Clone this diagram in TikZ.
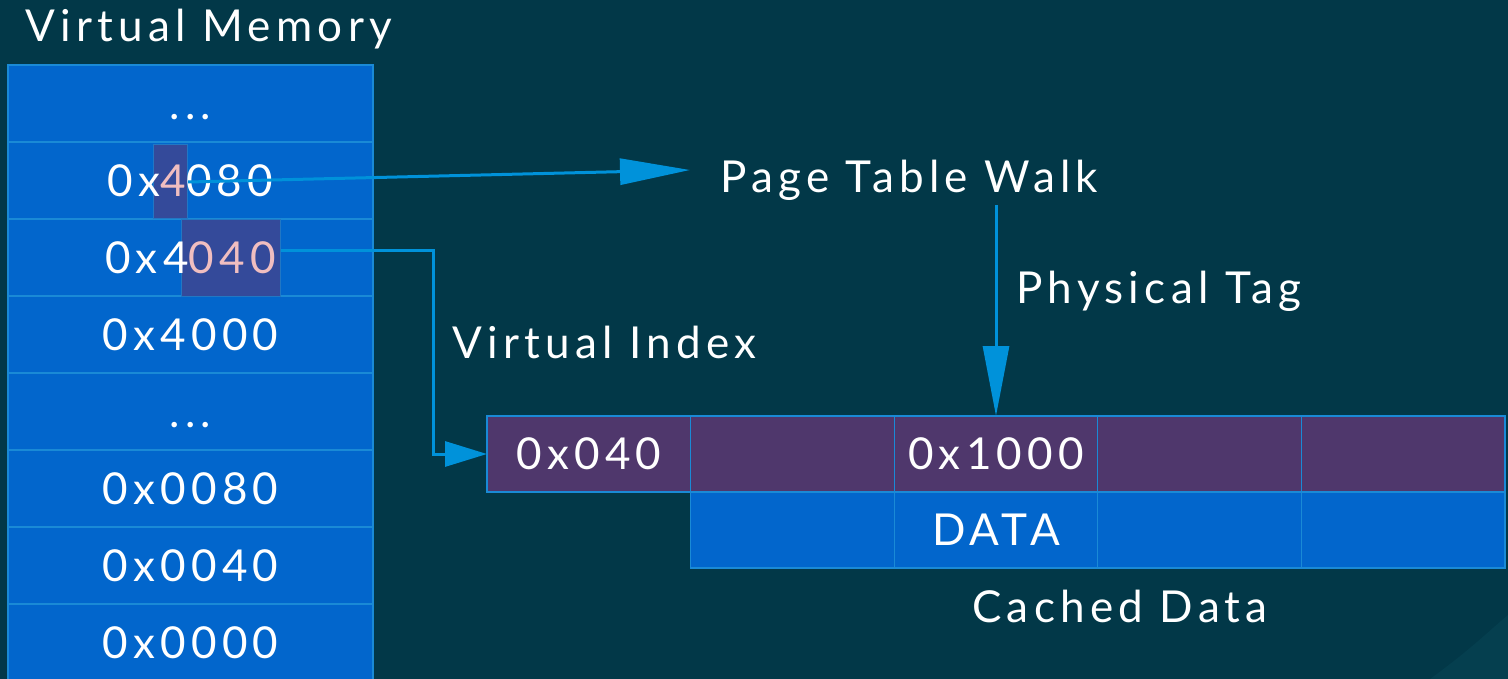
\documentclass[tikz,border=0pt]{standalone}
\usepackage{fontspec}
\setmainfont{Lato}[LetterSpace=12]
\usetikzlibrary{arrows.meta,fit,calc}
\definecolor{bgc}{RGB}{2,56,72}
\definecolor{bgcorner}{RGB}{5,63,79}
\definecolor{memfill}{RGB}{2,102,204}
\definecolor{memline}{RGB}{26,138,214}
\definecolor{tagfill}{RGB}{79,55,108}
\definecolor{hlfill}{RGB}{52,74,154}
\definecolor{pinktxt}{RGB}{240,190,192}
\definecolor{arrowc}{RGB}{0,146,218}
\pgfdeclarelayer{back}
\pgfdeclarelayer{mark}
\pgfsetlayers{back,mark,main}
\tikzset{
  txt/.style={font=\fontsize{44}{52}\selectfont, text=white, inner sep=0pt},
  memcell/.style={fill=memfill, draw=memline, line width=1.5pt, minimum width=365pt,
    minimum height=77pt, inner sep=0pt, outer sep=0pt, anchor=north west},
  tagcell/.style={fill=tagfill, draw=memline, line width=1.2pt, minimum width=203.6pt,
    minimum height=76pt, inner sep=0pt, outer sep=0pt, anchor=north west, txt},
  datacell/.style={fill=memfill, draw=memline, line width=1.2pt, minimum width=203.6pt,
    minimum height=76pt, inner sep=0pt, outer sep=0pt, anchor=north west, txt},
  hlbox/.style={fill=hlfill, draw=memline!70!hlfill, line width=1pt, inner sep=0pt},
  ghost/.style={txt, anchor=base west},
  conn/.style={draw=arrowc, line width=3pt},
  bigtip/.style={-{Triangle[length=70pt,width=26pt]}},
  smalltip/.style={-{Triangle[length=42pt,width=25pt]}},
}
\begin{document}
\begin{tikzpicture}[x=1pt,y=-1pt]
  \useasboundingbox (0,0) rectangle (1508,679);
  % canvas and memory column
  \begin{pgfonlayer}{back}
    \fill[bgc] (0,0) rectangle (1508,679);
    \fill[bgcorner] (1430,679) .. controls (1470,650) and (1490,630) .. (1508,615) -- (1508,679) -- cycle;
    \foreach \i in {0,...,7}
      \node[memcell] (m\i) at (8,{65+77*\i}) {};
  \end{pgfonlayer}

  \node[txt, anchor=base west] (vmtitle) at (25,42) {Virtual Memory};
  \node[txt, anchor=base] (t0) at ($(m0.center)+(0,16)$) {...};
  \node[txt, anchor=base] (t1) at ($(m1.center)+(0,16)$) {0x\textcolor{pinktxt}{4}080};
  \node[txt, anchor=base] (t2) at ($(m2.center)+(0,16)$) {0x4\textcolor{pinktxt}{040}};
  \node[txt, anchor=base] (t3) at ($(m3.center)+(0,16)$) {0x4000};
  \node[txt, anchor=base] (t4) at ($(m4.center)+(0,16)$) {...};
  \node[txt, anchor=base] (t5) at ($(m5.center)+(0,16)$) {0x0080};
  \node[txt, anchor=base] (t6) at ($(m6.center)+(0,16)$) {0x0040};
  \node[txt, anchor=base] (t7) at ($(m7.center)+(0,16)$) {0x0000};

  % widths of the leading digits, used to place the marked fields
  \node[ghost] (q1) at (t1.base west) {\phantom{0x}};
  \node[ghost] (q2) at (q1.base east) {\phantom{4}};
  \node[ghost] (r1) at (t2.base west) {\phantom{0x4}};
  \node[ghost] (r2) at (r1.base east) {\phantom{040}};

  \begin{pgfonlayer}{mark}
    \node[hlbox, fit={($(q2.west |- m1.north)+(-7,3)$) ($(q2.east |- m1.south)+(1,0)$)}] (h4) {};
    \node[hlbox, fit={($(r2.west |- m2.north)+(-7,1)$) ($(r2.east |- m2.south)+(4,0)$)}] (h040) {};
  \end{pgfonlayer}

  % cache
  \foreach \i/\t in {1/0x040, 2/, 3/0x1000, 4/, 5/}
    \node[tagcell] (c\i) at ({487+203.6*(\i-1)},416) {\t};
  \foreach \i/\t in {2/, 3/DATA, 4/, 5/}
    \node[datacell] (d\i) at ({487+203.6*(\i-1)},492) {\t};
  \node[txt, anchor=base west] (cached) at (972,622) {Cached Data};

  % labels
  \node[txt, anchor=base west] (ptw) at (720,193) {Page Table Walk};
  \node[txt, anchor=base west] (ptag) at (1016,303) {Physical Tag};
  \node[txt, anchor=base west] (vidx) at (452,358) {Virtual Index};
  \coordinate (ptwin) at (690,170);
  \coordinate (ptwout) at (996,205);

  % connectors
  \draw[conn, bigtip] (h4.east) -- (ptwin);
  \draw[conn, bigtip] (ptwout) -- (c3.north);
  \draw[conn, smalltip] ($(h040.east)+(0,-7)$) -| ($(c1.west)+(-54,0)$) -- (c1.west);
\end{tikzpicture}
\end{document}
